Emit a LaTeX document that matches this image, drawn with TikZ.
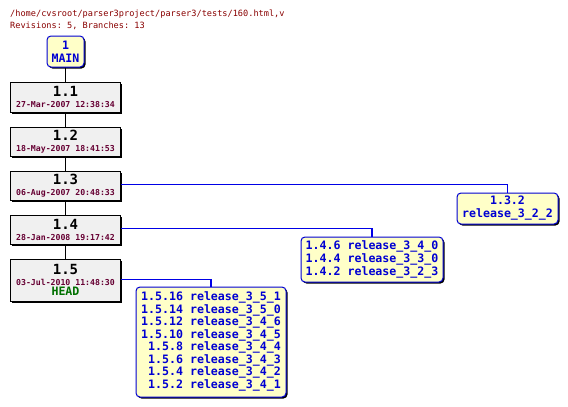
\documentclass[tikz,border=0pt]{standalone}
\usepackage{fontspec}
\setmonofont{DejaVu Sans Mono}
\usetikzlibrary{shadows}
\definecolor{titlered}{RGB}{136,0,0}
\definecolor{datered}{RGB}{102,0,51}
\definecolor{branchblue}{RGB}{0,0,210}
\definecolor{linkblue}{RGB}{0,0,230}
\definecolor{headgreen}{RGB}{0,112,0}
\definecolor{revfill}{RGB}{240,240,240}
\definecolor{branchfill}{RGB}{255,255,200}
\tikzset{
  revbox/.style={draw=black, line width=1pt, fill=revfill, inner sep=0pt, align=center,
    drop shadow={shadow xshift=1.5pt, shadow yshift=-1.5pt, fill=black, opacity=1}},
  branchbox/.style={draw=branchblue, line width=1pt, fill=branchfill, rounded corners=4pt,
    inner sep=0pt, align=center, text=branchblue,
    font=\ttfamily\bfseries\fontsize{11.6pt}{13pt}\selectfont,
    drop shadow={shadow xshift=1.5pt, shadow yshift=-1.5pt, fill=black, opacity=1}},
  revlink/.style={black, line width=1pt},
  branchlink/.style={linkblue, line width=1.1pt},
  titletext/.style={anchor=base west, inner sep=0pt, text=titlered, font=\ttfamily\fontsize{8.6pt}{10pt}\selectfont}
}
\newcommand{\revtext}[2]{{\ttfamily\bfseries\fontsize{14pt}{14pt}\selectfont #1}\\[-1pt]{\ttfamily\bfseries\fontsize{8.2pt}{9pt}\selectfont\color{datered}#2}}
\begin{document}
\begin{tikzpicture}[x=1pt,y=-1pt]
\useasboundingbox (0,0) rectangle (568,407);
\node[titletext] (title) at (10,16) {/home/cvsroot/parser3project/parser3/tests/160.html,v};
\node[titletext] (revs) at (10,28) {Revisions: 5, Branches: 13};

\node[branchbox, minimum width=37pt, minimum height=31pt] (main) at (65.5,51.5)
  {1\\MAIN};

\node[revbox, minimum width=110pt, minimum height=30pt] (r11) at (65.5,97) {\revtext{1.1}{27-Mar-2007 12:38:34}};
\node[revbox, minimum width=110pt, minimum height=29pt] (r12) at (65.5,141.5) {\revtext{1.2}{18-May-2007 18:41:53}};
\node[revbox, minimum width=110pt, minimum height=29pt] (r13) at (65.5,185.5) {\revtext{1.3}{06-Aug-2007 20:48:33}};
\node[revbox, minimum width=110pt, minimum height=29pt] (r14) at (65.5,229.5) {\revtext{1.4}{28-Jan-2008 19:17:42}};
\node[revbox, minimum width=110pt, minimum height=42pt] (r15) at (65.5,280)
  {\revtext{1.5}{03-Jul-2010 11:48:30}\\[-2pt]{\ttfamily\bfseries\fontsize{11.6pt}{12pt}\selectfont\color{headgreen}HEAD}};

\node[branchbox, minimum width=101pt, minimum height=31pt] (b132) at (507.5,208.5)
  {1.3.2\\release\_3\_2\_2};
\node[branchbox, minimum width=142pt, minimum height=45pt] (b14) at (372,259.5)
  {1.4.6 release\_3\_4\_0\\1.4.4 release\_3\_3\_0\\1.4.2 release\_3\_2\_3};
\node[branchbox, minimum width=150pt, minimum height=110pt] (b15) at (211,342)
  {\begin{tabular}{@{}r@{ }l@{}}
  1.5.16 & release\_3\_5\_1\\[-0.5pt]
  1.5.14 & release\_3\_5\_0\\[-0.5pt]
  1.5.12 & release\_3\_4\_6\\[-0.5pt]
  1.5.10 & release\_3\_4\_5\\[-0.5pt]
  1.5.8 & release\_3\_4\_4\\[-0.5pt]
  1.5.6 & release\_3\_4\_3\\[-0.5pt]
  1.5.4 & release\_3\_4\_2\\[-0.5pt]
  1.5.2 & release\_3\_4\_1
  \end{tabular}};

\draw[revlink] (main) -- (r11);
\draw[revlink] (r11) -- (r12);
\draw[revlink] (r12) -- (r13);
\draw[revlink] (r13) -- (r14);
\draw[revlink] (r14) -- (r15);
\draw[branchlink] (r13.east |- 0,184.5) -| (b132);
\draw[branchlink] (r14.east |- 0,228.5) -| (b14);
\draw[branchlink] (r15.east |- 0,279.5) -| (b15);
\end{tikzpicture}
\end{document}
